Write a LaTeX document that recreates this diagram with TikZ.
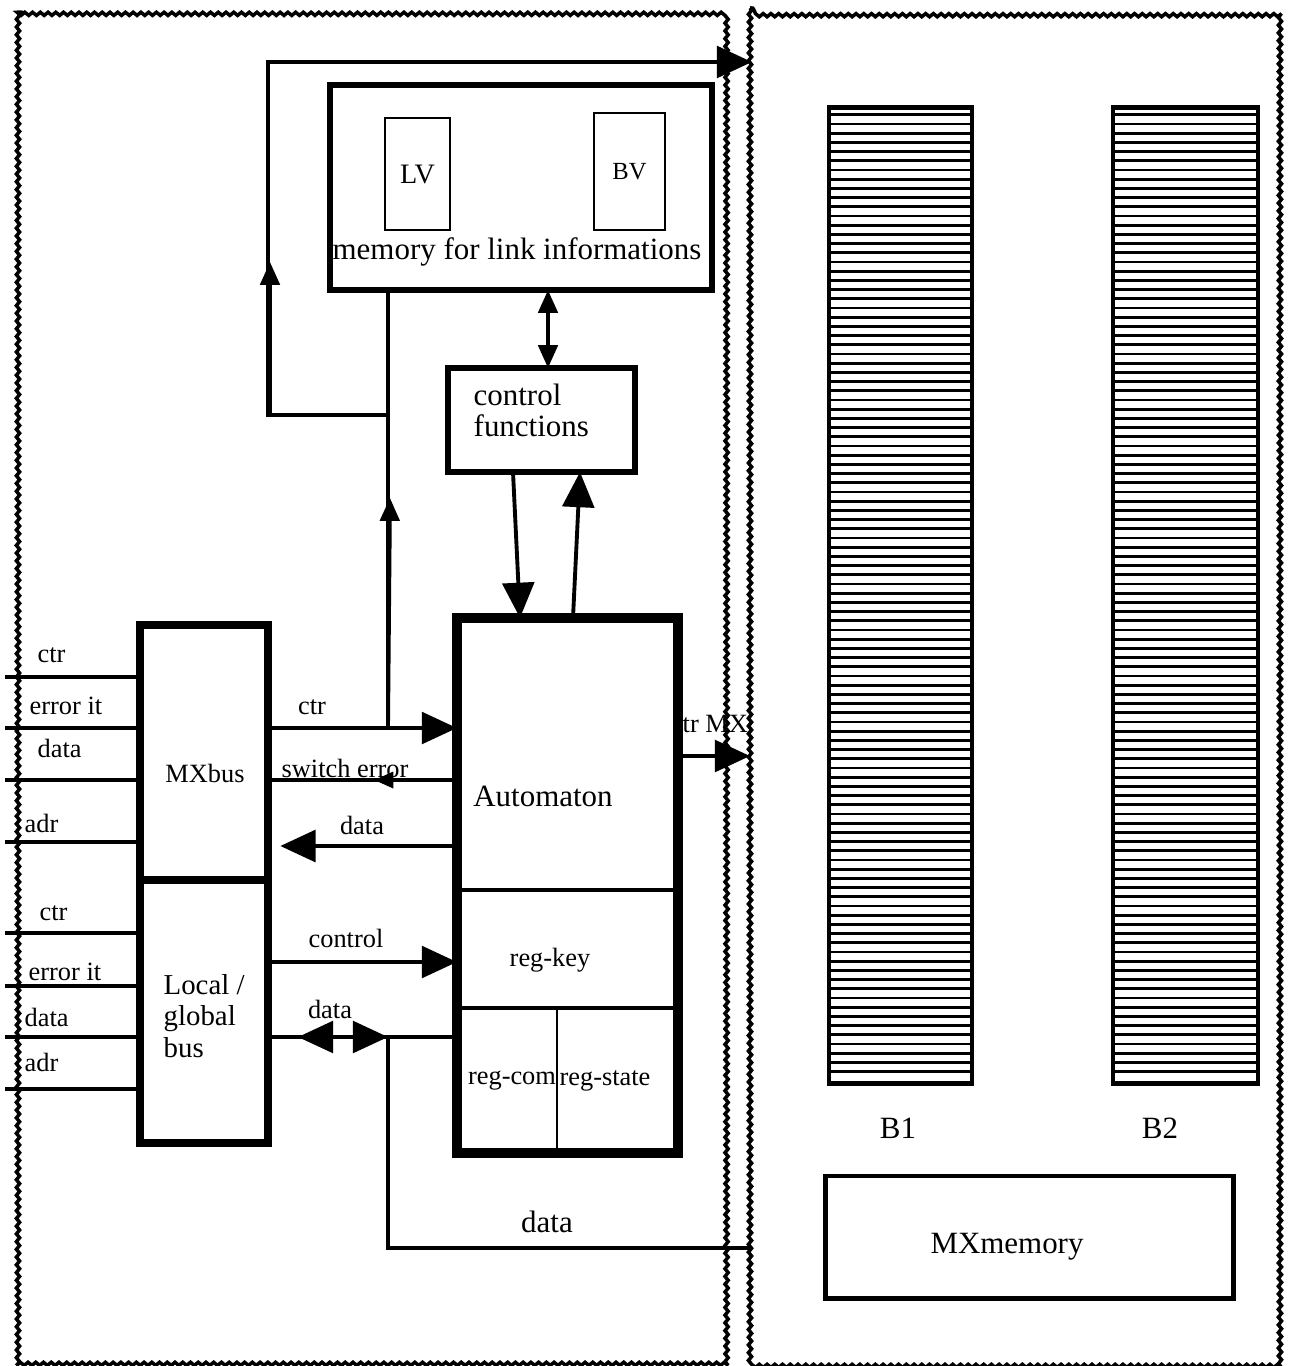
\documentclass[tikz,border=0pt]{standalone}
\usepackage{fontspec}
\setmainfont{Liberation Serif}
\usetikzlibrary{arrows.meta,decorations.pathmorphing,calc}
\begin{document}
\begin{tikzpicture}[x=0.01cm,y=-0.01cm,
  bigtip/.tip={Triangle[length=10pt,width=9pt]},
  midtip/.tip={Triangle[length=6.5pt,width=5.5pt]},
  smalltip/.tip={Triangle[length=5.5pt,width=4.5pt]},
  box/.style={draw,line width=1.6pt,inner sep=0pt,outer sep=0pt},
  wire/.style={line width=1.1pt},
  hatch/.style={line width=0.8pt},
  frame/.style={line width=1pt,decorate,decoration={snake,amplitude=0.45pt,segment length=2.2pt}},
  txt/.style={font=\fontsize{8.8}{8.8}\selectfont,inner sep=0pt},
  lbl/.style={font=\fontsize{7.5}{8}\selectfont,inner sep=0pt}]
\useasboundingbox (0,0) rectangle (1289,1366);

% blocks of the left part
\node[box,minimum width=3.82cm,minimum height=2.05cm] (mem) at (521,187.5) {};
\node[box,line width=0.8pt,minimum width=0.65cm,minimum height=1.12cm,font=\fontsize{8}{8}\selectfont] (lv) at (417.5,174) {LV};
\node[box,line width=0.8pt,minimum width=0.71cm,minimum height=1.17cm,font=\fontsize{7}{7}\selectfont] (bv) at (629.5,171.5) {BV};
\node[txt] at (517,252) {memory for link informations};

\node[box,line width=1.5pt,minimum width=1.87cm,minimum height=1.04cm] (ctl) at (541.5,420) {};
\node[txt,anchor=west,align=left] at (473,410) {control\\functions};

\node[box,line width=2.8pt,minimum width=2.21cm,minimum height=5.35cm] (auto) at (567.5,885.5) {};
\draw[line width=1.4pt] (auto.west |- 0,890) -- (auto.east |- 0,890);
\draw[line width=1.4pt] (auto.west |- 0,1008) -- (auto.east |- 0,1008);
\draw[line width=0.6pt] (557,1008) -- (auto.south -| 557,0);
\node[txt] at (543,796) {Automaton};
\node[lbl] at (550,960) {reg-key};
\node[lbl] at (512,1081) {reg-com};
\node[lbl] at (605,1081) {reg-state};

\node[box,line width=2.2pt,minimum width=1.28cm,minimum height=2.55cm] (mx) at (204,752.5) {};
\node[box,line width=2.2pt,minimum width=1.28cm,minimum height=2.63cm] (loc) at (204,1011.5) {};
\node[lbl] at (205,773) {MXbus};
\node[txt,anchor=west,align=left,font=\fontsize{8.2}{8.9}\selectfont] at (163,1016) {Local /\\global\\bus};

% bus wires on the left
\foreach \y/\t/\lx/\ly in {677/ctr/37/655, 728/error it/29/706, 780/data/37/748, 842/adr/24/823}
  {\draw[wire] (5,\y) -- (mx.west |- 0,\y);
   \node[lbl,anchor=west] at (\lx,\ly) {\t};}
\foreach \y/\t/\lx/\ly in {933/ctr/39/913, 986/error it/28/972, 1037/data/24/1017, 1089/adr/24/1062}
  {\draw[wire] (5,\y) -- (loc.west |- 0,\y);
   \node[lbl,anchor=west] at (\lx,\ly) {\t};}

% connectors
\coordinate (ctrtap) at (388,728);
\coordinate (looptap) at (388,415);
\coordinate (databr) at (388,1037);

\draw[wire,-bigtip] (mx.east |- 0,728) -- (auto.west |- 0,728);
\node[lbl] at (312,707) {ctr};
\draw[wire] (auto.west |- 0,780) -- (mx.east |- 0,780);
\draw[wire,-smalltip] (auto.west |- 0,780) -- (374,780);
\node[lbl] at (345,768) {switch error};
\draw[wire,-bigtip,shorten >=3.5pt] (auto.west |- 0,846) -- (mx.east |- 0,846);
\node[lbl] at (362,825) {data};

\draw[wire,-bigtip] (loc.east |- 0,962) -- (auto.west |- 0,962);
\node[lbl] at (346,938) {control};
\draw[wire] (auto.west |- 0,1037) -- (loc.east |- 0,1037);
\draw[wire,-bigtip] (databr) -- (298,1037);
\draw[wire,-bigtip] (340,1037) -- (databr);
\node[lbl] at (330,1009) {data};

\draw[wire] (databr) |- (750,1248);
\node[txt] at (547,1222) {data};

\draw[wire] (ctrtap) -- (mem.south -| ctrtap);
\draw[wire,-midtip] (ctrtap) -- (390,498);
\draw[wire,-bigtip] (looptap) -| (268,62) -- (752,62);
\draw[wire,-midtip] (looptap) -| (270,262);

\draw[wire,midtip-midtip] (mem.south -| 548,0) -- (ctl.north -| 548,0);
\draw[wire,-bigtip] (ctl.south -| 513,0) -- (auto.north -| 520,0);
\draw[wire,-bigtip] (auto.north -| 573,0) -- (ctl.south -| 580,0);

\draw[wire,-bigtip] (auto.east |- 0,756) -- (750,756);
\node[lbl,anchor=west] at (682,724) {tr MX};

% right part
\node[box,line width=1.3pt,minimum width=1.43cm,minimum height=9.75cm] (b1) at (900.5,595.5) {};
\node[box,line width=1.3pt,minimum width=1.45cm,minimum height=9.75cm] (b2) at (1185.5,595.5) {};
\foreach \b in {b1,b2}
  \foreach \i in {0,...,104}
    \draw[hatch] ($(\b.north west)+(0,7+\i*9.2)$) -- ($(\b.north east)+(0,7+\i*9.2)$);
\node[txt] at (898,1128) {B1};
\node[txt] at (1160,1128) {B2};
\node[box,line width=1.4pt,minimum width=4.07cm,minimum height=1.22cm] (mxm) at (1029.5,1237) {};
\node[txt] at (1007,1247) {MXmemory};

% frames
\draw[frame] (18,13) rectangle (733,1362);
\draw[frame] (750,8) rectangle (1281,1362);
\end{tikzpicture}
\end{document}
